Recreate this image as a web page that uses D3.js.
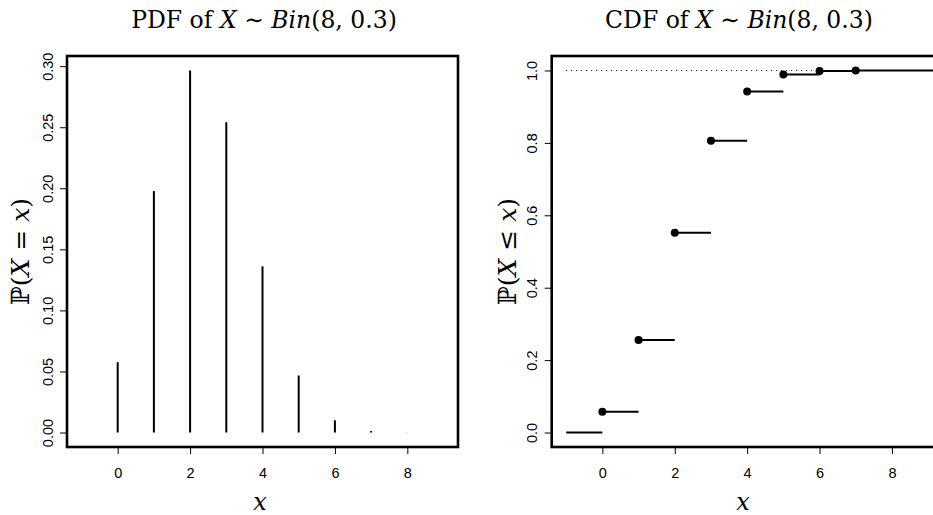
<!DOCTYPE html>
<html>
<head>
<meta charset="utf-8">
<script src="https://cdn.jsdelivr.net/npm/d3@7"></script>
<style>
  html, body { margin: 0; padding: 0; background: #fff; }
  svg { display: block; }
  .tick-label { font-family: "Liberation Sans", Arial, sans-serif; font-size: 14.5px; fill: #000; }
  .math { font-family: "DejaVu Serif", "Liberation Serif", serif; fill: #000; }
</style>
</head>
<body>
<svg id="chart" width="933" height="515"></svg>
<script>
// Bin(8, 0.3): support, probability mass and cumulative probabilities
const xValues = [0, 1, 2, 3, 4, 5, 6, 7, 8];
const pmfValues = [0.0576, 0.1977, 0.2965, 0.2541, 0.1361, 0.0467, 0.0100, 0.0012, 0.0001];
const cdfValues = [0.0576, 0.2553, 0.5518, 0.8059, 0.9420, 0.9887, 0.9987, 0.9999, 1.0000];

const xTicks = [0, 2, 4, 6, 8];
const pdfYTicks = [0.00, 0.05, 0.10, 0.15, 0.20, 0.25, 0.30];
const cdfYTicks = [0.0, 0.2, 0.4, 0.6, 0.8, 1.0];

const svg = d3.select("#chart");

const plotTop = 56, plotBottom = 447;
const xDomain = [-1.4, 9.4];

// Left panel scales
const xL = d3.scaleLinear().domain(xDomain).range([67, 458]);
const yL = d3.scaleLinear().domain([-0.01186, 0.30834]).range([plotBottom, plotTop]);

// Right panel scales
const xR = d3.scaleLinear().domain(xDomain).range([551.7, 942.6]);
const yR = d3.scaleLinear().domain([-0.04, 1.04]).range([plotBottom, plotTop]);

function drawAxes(g, x, y, yTicks, yFmt, labelX) {
  // bottom axis
  const ax = g.append("g").attr("transform", `translate(0,${plotBottom})`)
    .call(d3.axisBottom(x).tickValues(xTicks).tickSize(7).tickPadding(6).tickFormat(d3.format("d")));
  ax.select(".domain").remove();
  ax.selectAll("line").attr("stroke", "#000").attr("stroke-width", 1);
  ax.selectAll("text").attr("class", "tick-label").attr("fill", "#000")
    .attr("y", 30.5).attr("dy", null);
  ax.attr("font-size", null).attr("font-family", null);

  // left axis with rotated labels
  const ay = g.append("g").attr("transform", `translate(${x.range()[0]},0)`)
    .call(d3.axisLeft(y).tickValues(yTicks).tickSize(7).tickFormat(yFmt));
  ay.select(".domain").remove();
  ay.selectAll("line").attr("stroke", "#000").attr("stroke-width", 1);
  ay.selectAll("text").attr("class", "tick-label").attr("fill", "#000")
    .attr("x", null).attr("dy", null)
    .attr("text-anchor", "middle")
    .attr("transform", `translate(${labelX - x.range()[0]},0) rotate(-90)`);
  ay.attr("font-size", null).attr("font-family", null);
}

function drawBox(g, x) {
  const [x0, x1] = x.range();
  g.append("rect")
    .attr("x", x0).attr("y", plotTop)
    .attr("width", x1 - x0).attr("height", plotBottom - plotTop)
    .attr("fill", "none").attr("stroke", "#000").attr("stroke-width", 2.6);
}

function title(g, cx, lead) {
  const t = g.append("text").attr("class", "math")
    .attr("x", cx).attr("y", 28).attr("text-anchor", "middle").attr("font-size", 23.5);
  t.append("tspan").text(lead + " of ");
  t.append("tspan").attr("font-style", "italic").text("X");
  t.append("tspan").text(" \u223C ");
  t.append("tspan").attr("font-style", "italic").text("Bin");
  t.append("tspan").text("(8, 0.3)");
}

function yLabel(g, bx, rel) {
  const t = g.append("text").attr("class", "math")
    .attr("text-anchor", "middle").attr("font-size", 25)
    .attr("transform", `translate(${bx},${(plotTop + plotBottom) / 2}) rotate(-90)`);
  t.append("tspan").text("\u2119");
  t.append("tspan").text("(");
  t.append("tspan").attr("font-style", "italic").text("X");
  t.append("tspan").text(" " + rel + " ");
  t.append("tspan").attr("font-style", "italic").text("x");
  t.append("tspan").text(")");
}

function xLabel(g, cx) {
  g.append("text").attr("class", "math")
    .attr("x", cx).attr("y", 510).attr("text-anchor", "middle")
    .attr("font-size", 24).attr("font-style", "italic").text("x");
}

// ---------- PDF panel ----------
const gL = svg.append("g");
gL.selectAll("line.pmf").data(xValues.map((d, i) => ({x: d, p: pmfValues[i]})))
  .join("line").attr("class", "pmf")
  .attr("x1", d => xL(d.x)).attr("x2", d => xL(d.x))
  .attr("y1", yL(0)).attr("y2", d => yL(d.p))
  .attr("stroke", "#000").attr("stroke-width", 2);
drawAxes(gL, xL, yL, pdfYTicks, d3.format(".2f"), 52.5);
drawBox(gL, xL);
title(gL, 264, "PDF");
yLabel(gL, 29, "=");
xLabel(gL, 260);

// ---------- CDF panel ----------
const gR = svg.append("g");
// dotted reference line at probability 1
gR.append("line")
  .attr("x1", xR(-1)).attr("x2", xR(9.4))
  .attr("y1", yR(1)).attr("y2", yR(1))
  .attr("stroke", "#000").attr("stroke-width", 1).attr("stroke-dasharray", "1,4");

const steps = [{x0: -1, x1: 0, y: 0}].concat(
  xValues.slice(0, 8).map((d, i) => ({x0: d, x1: i === 7 ? 9.28 : d + 1, y: cdfValues[i]}))
);
gR.selectAll("line.step").data(steps).join("line").attr("class", "step")
  .attr("x1", d => xR(d.x0)).attr("x2", d => xR(d.x1))
  .attr("y1", d => yR(d.y)).attr("y2", d => yR(d.y))
  .attr("stroke", "#000").attr("stroke-width", 2);
gR.selectAll("circle.pt").data(xValues.slice(0, 8).map((d, i) => ({x: d, y: cdfValues[i]})))
  .join("circle").attr("class", "pt")
  .attr("cx", d => xR(d.x)).attr("cy", d => yR(d.y)).attr("r", 4).attr("fill", "#000");

drawAxes(gR, xR, yR, cdfYTicks, d3.format(".1f"), 536.5);
drawBox(gR, xR);
title(gR, 739, "CDF");
yLabel(gR, 516, "\u2264");
xLabel(gR, 743);
</script>
</body>
</html>
